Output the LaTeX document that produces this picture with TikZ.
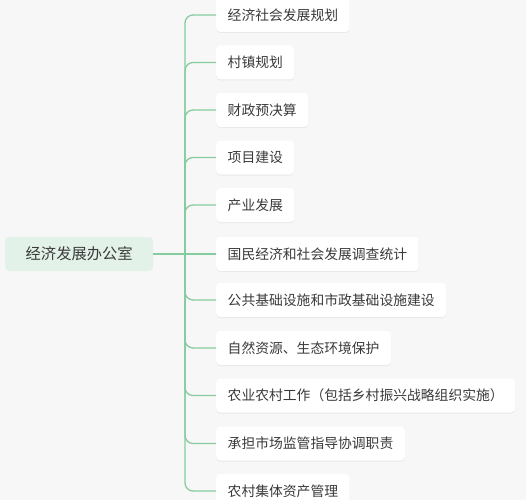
\documentclass[tikz,border=0pt]{standalone}
\usepackage{fontspec}
\setmainfont{Noto Sans CJK SC}
\usetikzlibrary{shadows}
\definecolor{bg}{HTML}{F7F7F7}
\definecolor{linegreen}{HTML}{86CC9F}
\definecolor{rootfill}{HTML}{E3F2E8}
\definecolor{txt}{HTML}{3A3A3A}
\begin{document}
\begin{tikzpicture}[x=1pt,y=-1pt,
  rootbox/.style={fill=rootfill, rounded corners=4pt, minimum height=34pt, minimum width=148pt,
    inner xsep=20pt, text=txt, font=\fontsize{15.3pt}{18pt}\selectfont, anchor=west},
  leafbox/.style={fill=white, rounded corners=4pt, minimum height=34pt, inner xsep=11.5pt,
    text=txt, font=\fontsize{13.8pt}{16pt}\selectfont, anchor=west,
    drop shadow={opacity=0.12, shadow xshift=0pt, shadow yshift=-1pt}},
  link/.style={draw=linegreen, line width=1.3pt, rounded corners=8pt}]
\fill[bg] (0,0) rectangle (526,500);
\useasboundingbox (0,0) rectangle (526,500);
\node[rootbox] (root) at (5,254) {经济发展办公室};
\coordinate (trunk) at (185,254);
\node[leafbox] (c1) at (216,15) {经济社会发展规划};
\node[leafbox] (c2) at (216,62.5) {村镇规划};
\node[leafbox] (c3) at (216,110) {财政预决算};
\node[leafbox] (c4) at (216,157.5) {项目建设};
\node[leafbox] (c5) at (216,205) {产业发展};
\node[leafbox] (c6) at (216,254) {国民经济和社会发展调查统计};
\node[leafbox] (c7) at (216,300) {公共基础设施和市政基础设施建设};
\node[leafbox] (c8) at (216,348) {自然资源、生态环境保护};
\node[leafbox] (c9) at (216,395.5) {农业农村工作（包括乡村振兴战略组织实施）};
\node[leafbox] (c10) at (216,443.5) {承担市场监管指导协调职责};
\node[leafbox] (c11) at (216,491) {农村集体资产管理};
\draw[link] (root.east) -- (c6.west);
\foreach \c in {c1,c2,c3,c4,c5,c7,c8,c9,c10,c11}
  \draw[link] (trunk) |- (\c.west);
\end{tikzpicture}
\end{document}
